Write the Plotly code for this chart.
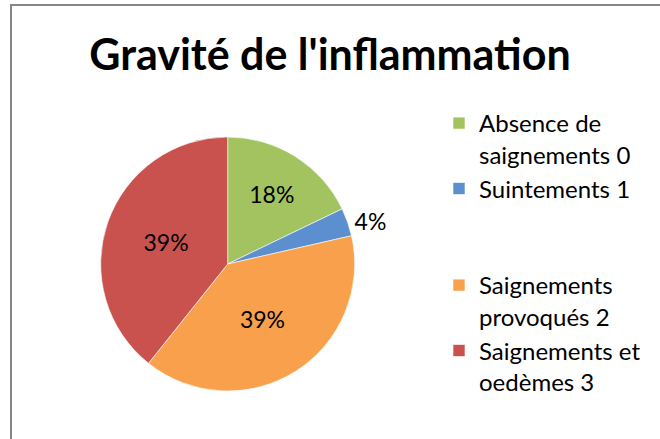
import plotly.graph_objects as go

labels = ["Absence de<br>saignements 0", "Suintements 1<br> <br> ", "Saignements<br>provoqués 2", "Saignements et<br>oedèmes 3"]
values = [5, 1, 11, 11]
colors = ["#A2C35F", "#5B8FD0", "#F8A04C", "#C9524F"]
text_positions = ["inside", "outside", "inside", "inside"]

FONT = "Lato, 'Open Sans', sans-serif"

fig = go.Figure(go.Pie(
    labels=labels,
    values=values,
    sort=False,
    direction="clockwise",
    rotation=0,
    marker=dict(colors=colors, line=dict(color="rgba(255,255,255,0.6)", width=1)),
    texttemplate="%{percent:.0%}",
    textposition=text_positions,
    insidetextorientation="horizontal",
    textfont=dict(family=FONT, size=23, color="black"),
    domain=dict(x=[0.05, 0.64], y=[48 / 439, 302 / 439]),
    showlegend=True,
    hoverinfo="percent",
))

fig.update_layout(
    width=660, height=439,
    margin=dict(l=0, r=0, t=0, b=0, autoexpand=False),
    paper_bgcolor="white",
    plot_bgcolor="white",
    title=dict(text="<b>Gravité de l'inflammation</b>", x=0.5, xanchor="center",
               y=1 - 55 / 439, yanchor="middle",
               font=dict(family=FONT, size=43, color="black")),
    legend=dict(x=439 / 660, xanchor="left", y=1 - 101 / 439, yanchor="top",
                font=dict(family=FONT, size=24, color="black"),
                valign="top", itemwidth=30),
    shapes=[dict(type="rect", xref="paper", yref="paper",
                 x0=11 / 660, x1=1.02, y0=-0.02, y1=1 - 5 / 439,
                 line=dict(color="#868686", width=2), fillcolor="rgba(0,0,0,0)", layer="below")],
)

fig.write_html("out.html", config={"displayModeBar": False},
               post_script="document.body.style.margin='0';")
